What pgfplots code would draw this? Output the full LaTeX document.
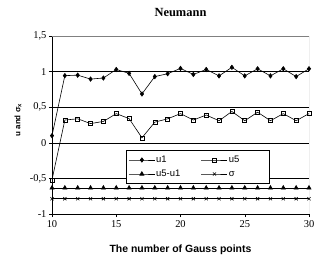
\documentclass[border=0pt]{standalone}
\usepackage{pgfplots}
\pgfplotsset{compat=1.18}
\usepackage{fontspec}
\setmainfont{Liberation Serif}
\setsansfont{Liberation Sans}
\begin{document}
\begin{tikzpicture}
\begin{axis}[
  scale only axis,
  width=257bp, height=178bp,
  xmin=10, xmax=30, ymin=-1, ymax=1.5,
  axis lines*=left,
  axis line style={black, line width=0.5pt},
  xtick={10,15,20,25,30},
  ytick={-1,-0.5,0,0.5,1,1.5},
  yticklabels={{-1},{-0,5},{0},{0,5},{1},{1,5}},
  xticklabels={{10},{15},{20},{25},{30}},
  tick align=outside,
  major tick length=3bp,
  tick style={black, line width=0.5pt},
  ticklabel style={font=\fontsize{10.5}{12}\selectfont},
  yticklabel style={xshift=1bp},
  ymajorgrids,
  grid style={black, line width=0.6pt},
  title={\bfseries Neumann},
  title style={font=\fontsize{12.5}{14}\selectfont, at={(axis description cs:0.5,1)}, anchor=base, yshift=14bp},
  xlabel={\sffamily\bfseries The number of Gauss points},
  xlabel style={font=\fontsize{10.5}{12}\selectfont, at={(axis description cs:0.5,0)}, anchor=center, yshift=-36bp},
  ylabel={\sffamily\bfseries u and σ\textsubscript{x}},
  ylabel style={font=\fontsize{8}{9}\selectfont, at={(axis description cs:-0.132,0.528)}, anchor=center},
  legend style={at={(axis cs:15.74,-0.104)}, anchor=north west, draw=black, line width=0.6pt, fill=white,
    font=\sffamily\fontsize{9.5}{11}\selectfont, inner sep=2.5bp, row sep=0bp,
    nodes={text width=37bp, text height=8bp, text depth=4bp, inner sep=1bp},
    /tikz/every even column/.append style={column sep=7bp}},
  legend columns=2,
  legend cell align=left,
  legend image code/.code={\draw[mark repeat=2, mark phase=2, #1] plot coordinates {(0bp,0bp) (13bp,0bp) (26bp,0bp)};},
  every axis plot/.append style={line width=0.6pt},
]
\addplot[black, mark=diamond*, mark size=2.2bp] coordinates {
(10,0.10) (11,0.943) (12,0.95) (13,0.895) (14,0.91) (15,1.03) (16,0.975) (17,0.686) (18,0.93) (19,0.97) (20,1.045) (21,0.96) (22,1.03) (23,0.94) (24,1.06) (25,0.94) (26,1.04) (27,0.94) (28,1.04) (29,0.93) (30,1.04)};
\addlegendentry{u1}
\addplot[black, mark=square, mark size=2bp, mark options={fill=white, solid}] coordinates {
(10,-0.52) (11,0.32) (12,0.337) (13,0.27) (14,0.30) (15,0.41) (16,0.34) (17,0.07) (18,0.29) (19,0.337) (20,0.41) (21,0.32) (22,0.39) (23,0.31) (24,0.44) (25,0.31) (26,0.43) (27,0.31) (28,0.41) (29,0.31) (30,0.41)};
\addlegendentry{u5}
\addplot[black, mark=triangle*, mark size=2.4bp] coordinates {
(10,-0.634) (11,-0.634) (12,-0.634) (13,-0.634) (14,-0.634) (15,-0.634) (16,-0.634) (17,-0.634) (18,-0.634) (19,-0.634) (20,-0.634) (21,-0.634) (22,-0.634) (23,-0.634) (24,-0.634) (25,-0.634) (26,-0.634) (27,-0.634) (28,-0.634) (29,-0.634) (30,-0.634)};
\addlegendentry{u5-u1}
\addplot[black, mark=x, mark size=2.2bp] coordinates {
(10,-0.786) (11,-0.786) (12,-0.786) (13,-0.786) (14,-0.786) (15,-0.786) (16,-0.786) (17,-0.786) (18,-0.786) (19,-0.786) (20,-0.786) (21,-0.786) (22,-0.786) (23,-0.786) (24,-0.786) (25,-0.786) (26,-0.786) (27,-0.786) (28,-0.786) (29,-0.786) (30,-0.786)};
\addlegendentry{σ}
\draw[gray, line width=0.6pt] (rel axis cs:0,1) -- (rel axis cs:1,1) -- (rel axis cs:1,0);
\end{axis}
\pgfresetboundingbox
\useasboundingbox ([shift={(-52bp,-49bp)}]current axis.south west) rectangle ([shift={(26bp,36bp)}]current axis.north east);
\end{tikzpicture}
\end{document}
